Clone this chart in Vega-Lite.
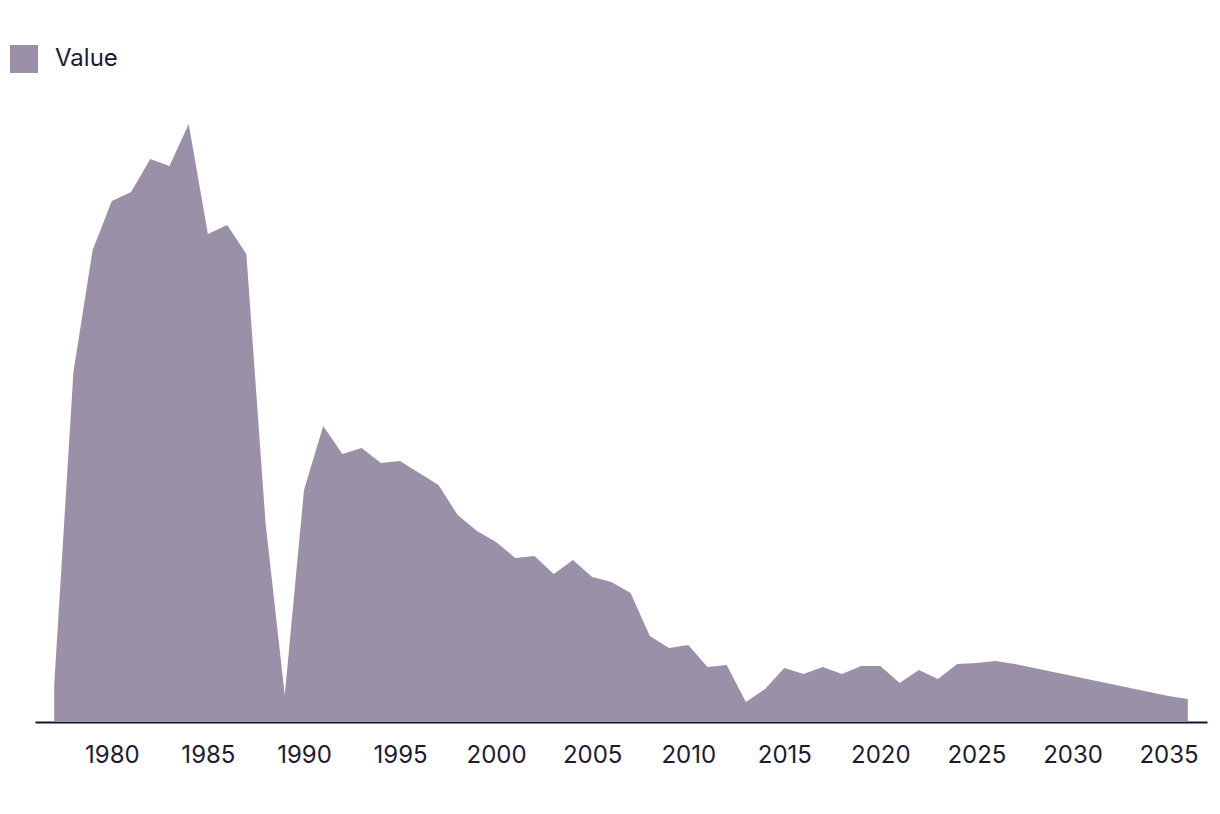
{
  "$schema": "https://vega.github.io/schema/vega-lite/v6.json",
  "autosize": "none",
  "width": 1172,
  "height": 627,
  "padding": {"left": 35, "top": 95, "right": 13, "bottom": 92},
  "background": "white",
  "config": {
    "view": {"stroke": null},
    "font": "Inter"
  },
  "data": {
    "values": [
      {"year": 1977, "Value": 37},
      {"year": 1978, "Value": 350},
      {"year": 1979, "Value": 472},
      {"year": 1980, "Value": 521},
      {"year": 1981, "Value": 530},
      {"year": 1982, "Value": 563},
      {"year": 1983, "Value": 556},
      {"year": 1984, "Value": 598},
      {"year": 1985, "Value": 488},
      {"year": 1986, "Value": 497},
      {"year": 1987, "Value": 468},
      {"year": 1988, "Value": 199},
      {"year": 1989, "Value": 27},
      {"year": 1990, "Value": 232},
      {"year": 1991, "Value": 296},
      {"year": 1992, "Value": 268},
      {"year": 1993, "Value": 274},
      {"year": 1994, "Value": 259},
      {"year": 1995, "Value": 261},
      {"year": 1996, "Value": 249},
      {"year": 1997, "Value": 237},
      {"year": 1998, "Value": 207},
      {"year": 1999, "Value": 191},
      {"year": 2000, "Value": 180},
      {"year": 2001, "Value": 164},
      {"year": 2002, "Value": 166},
      {"year": 2003, "Value": 148},
      {"year": 2004, "Value": 162},
      {"year": 2005, "Value": 145},
      {"year": 2006, "Value": 140},
      {"year": 2007, "Value": 129},
      {"year": 2008, "Value": 86},
      {"year": 2009, "Value": 74},
      {"year": 2010, "Value": 77},
      {"year": 2011, "Value": 55},
      {"year": 2012, "Value": 57},
      {"year": 2013, "Value": 20},
      {"year": 2014, "Value": 33},
      {"year": 2015, "Value": 54},
      {"year": 2016, "Value": 48},
      {"year": 2017, "Value": 55},
      {"year": 2018, "Value": 48},
      {"year": 2019, "Value": 56},
      {"year": 2020, "Value": 56},
      {"year": 2021, "Value": 39},
      {"year": 2022, "Value": 52},
      {"year": 2023, "Value": 43},
      {"year": 2024, "Value": 58},
      {"year": 2025, "Value": 59},
      {"year": 2026, "Value": 61},
      {"year": 2027, "Value": 58},
      {"year": 2028, "Value": 54},
      {"year": 2029, "Value": 50},
      {"year": 2030, "Value": 46},
      {"year": 2031, "Value": 42},
      {"year": 2032, "Value": 38},
      {"year": 2033, "Value": 34},
      {"year": 2034, "Value": 30},
      {"year": 2035, "Value": 26},
      {"year": 2036, "Value": 23}
    ]
  },
  "transform": [{"fold": ["Value"], "as": ["series", "amount"]}],
  "mark": {"type": "area", "interpolate": "linear", "opacity": 1},
  "encoding": {
    "x": {
      "field": "year",
      "type": "quantitative",
      "scale": {"domain": [1976, 2037], "nice": false, "zero": false},
      "axis": {
        "title": null,
        "values": [1980, 1985, 1990, 1995, 2000, 2005, 2010, 2015, 2020, 2025, 2030, 2035],
        "format": "d",
        "grid": false,
        "ticks": false,
        "domainColor": "#14142b",
        "domainWidth": 2,
        "labelFontSize": 24,
        "labelColor": "#1d1b33",
        "labelPadding": 21,
        "labelFont": "Inter"
      }
    },
    "y": {
      "field": "amount",
      "type": "quantitative",
      "scale": {"domain": [0, 627], "nice": false},
      "axis": null
    },
    "color": {
      "field": "series",
      "type": "nominal",
      "scale": {"range": ["#9a91a9"]},
      "legend": {
        "title": null,
        "orient": "none",
        "legendX": -25,
        "legendY": -50,
        "symbolType": "square",
        "symbolSize": 784,
        "symbolStrokeWidth": 0,
        "symbolOpacity": 1,
        "labelFontSize": 24,
        "labelColor": "#1d1b33",
        "labelOffset": 17,
        "labelFont": "Inter"
      }
    }
  }
}
